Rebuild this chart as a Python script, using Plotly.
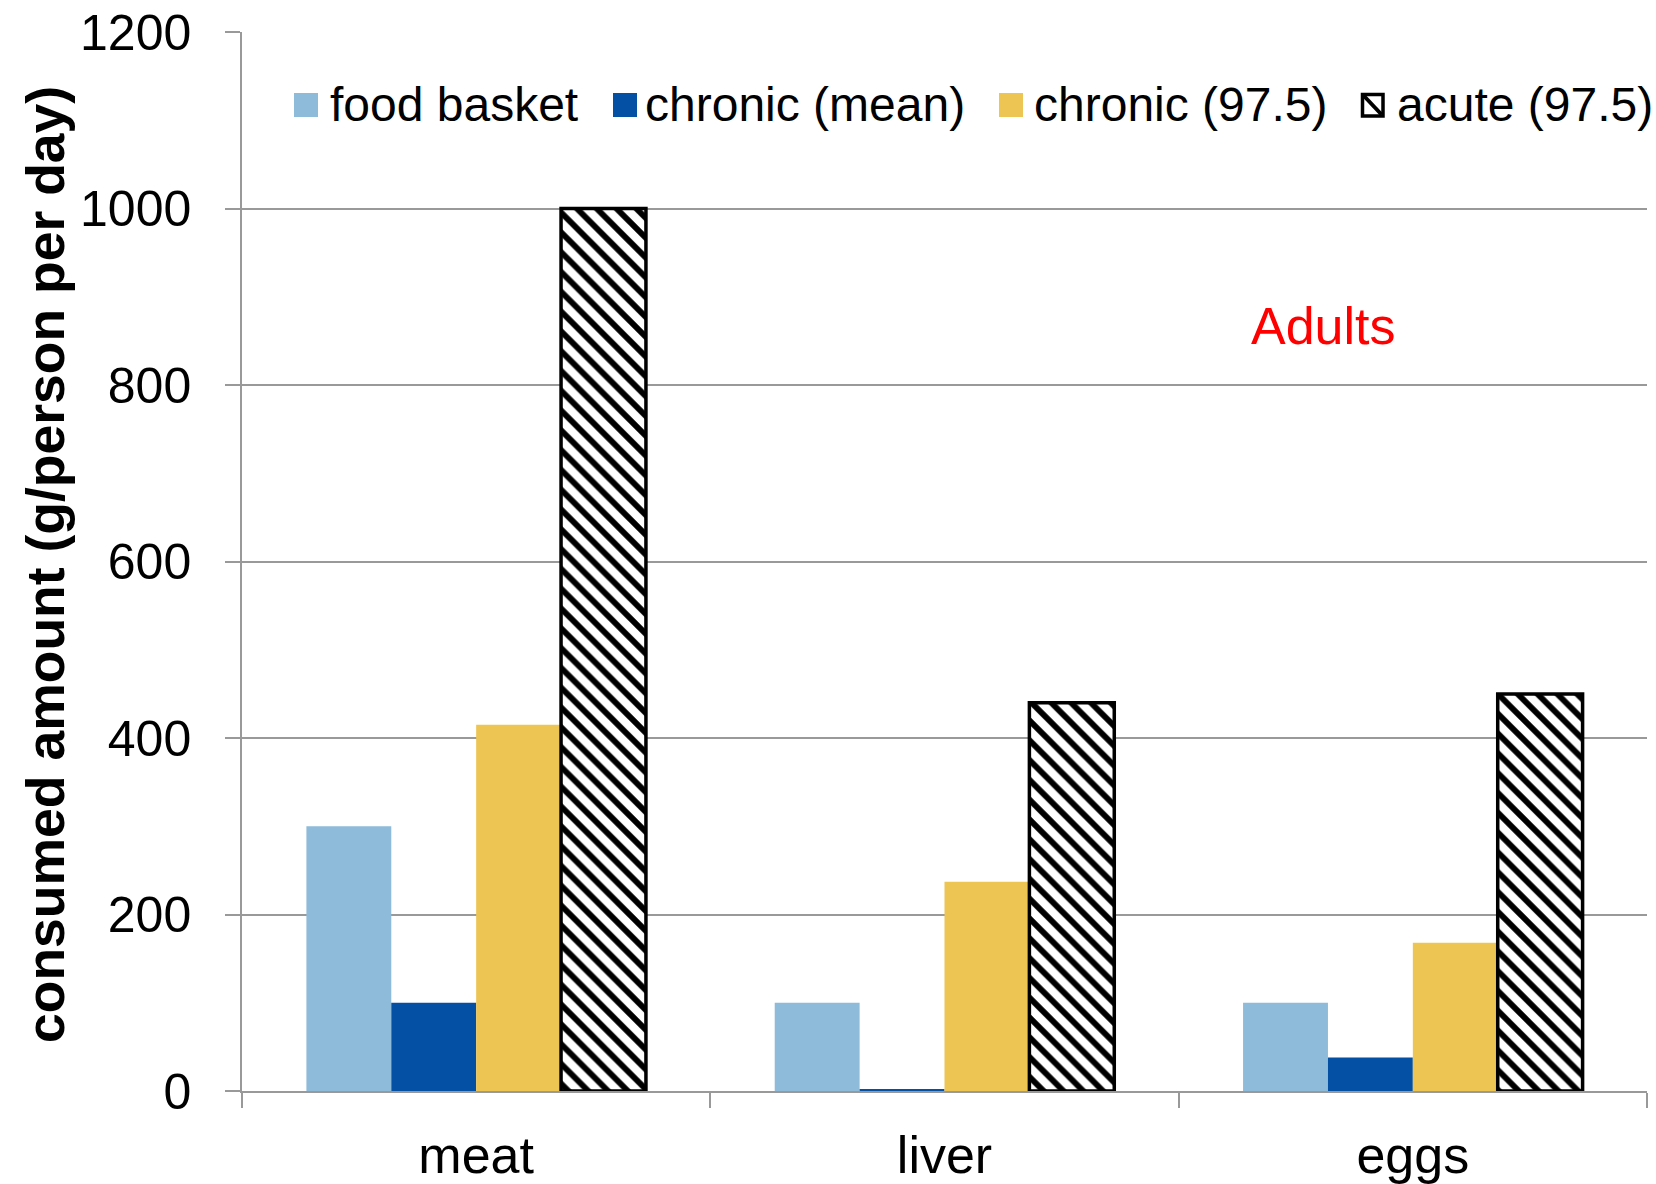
import plotly.graph_objects as go

# Food categories and daily consumed amounts (g/person per day), adults
categories = ["meat", "liver", "eggs"]
series_names = ["food basket", "chronic (mean)", "chronic (97.5)", "acute (97.5)"]
food_basket = [300, 100, 100]
chronic_mean = [100, 2, 38]
chronic_975 = [415, 237, 168]
acute_975 = [1000, 440, 450]
y_ticks = [0, 200, 400, 600, 800, 1000, 1200]

FONT = "Liberation Sans, Arial, sans-serif"
W, H = 1656, 1184
ML, MR, MT, MB = 242, 9, 32, 93
PW, PH = W - ML - MR, H - MT - MB

colors = ["#8DBBD9", "#0450A4", "#EDC552"]
solid_series = [food_basket, chronic_mean, chronic_975]

fig = go.Figure()
for name, vals, col in zip(series_names[:3], solid_series, colors):
    fig.add_trace(go.Bar(x=categories, y=vals, name=name,
                         marker=dict(color=col, line=dict(width=0)),
                         showlegend=False))
fig.add_trace(go.Bar(
    x=categories, y=acute_975, name=series_names[3], showlegend=False,
    marker=dict(color="white", line=dict(color="black", width=3.5),
                pattern=dict(shape="\\", fgcolor="black", bgcolor="white",
                             size=14, solidity=0.42, fillmode="replace")),
))


def px_x(px):
    return (px - ML) / PW


def px_y(py):
    return (H - MB - py) / PH


# Legend row across the top of the plot
leg_y_top, leg_y_bot = 93, 117
leg_items = [
    (294, 328, series_names[0], colors[0]),
    (613, 643, series_names[1], colors[1]),
    (999, 1032, series_names[2], colors[2]),
    (1361, 1395, series_names[3], None),
]
shapes = []
annotations = []
for sx, tx, label, col in leg_items:
    if col is not None:
        shapes.append(dict(type="rect", xref="paper", yref="paper",
                           x0=px_x(sx), x1=px_x(sx + 24),
                           y0=px_y(leg_y_bot), y1=px_y(leg_y_top),
                           fillcolor=col, line=dict(width=0)))
    else:
        shapes.append(dict(type="rect", xref="paper", yref="paper",
                           x0=px_x(sx + 1.5), x1=px_x(sx + 22),
                           y0=px_y(leg_y_bot - 1), y1=px_y(leg_y_top + 1.5),
                           fillcolor="white", line=dict(color="black", width=3.5)))
        shapes.append(dict(type="line", xref="paper", yref="paper",
                           x0=px_x(sx + 3), x1=px_x(sx + 20.5),
                           y0=px_y(leg_y_top + 3), y1=px_y(leg_y_bot - 2.5),
                           line=dict(color="black", width=4)))
    annotations.append(dict(text=label, xref="paper", yref="paper",
                            x=px_x(tx), y=px_y(105), xanchor="left",
                            yanchor="middle", showarrow=False,
                            font=dict(family=FONT, size=48, color="black")))

annotations.append(dict(text="Adults", xref="paper", yref="paper",
                        x=px_x(1323), y=px_y(326), xanchor="center",
                        yanchor="middle", showarrow=False,
                        font=dict(family=FONT, size=52, color="#FF0000")))
annotations.append(dict(text="<b>consumed amount (g/person per day)</b>",
                        xref="paper", yref="paper", x=px_x(45), y=px_y(565),
                        xanchor="center", yanchor="middle", textangle=-90,
                        showarrow=False,
                        font=dict(family=FONT, size=53.5, color="black")))

fig.update_layout(
    width=W, height=H,
    margin=dict(l=ML, r=MR, t=MT, b=MB, autoexpand=False),
    paper_bgcolor="white", plot_bgcolor="white",
    barmode="group", bargap=0.275, bargroupgap=0,
    shapes=shapes, annotations=annotations,
    showlegend=False,
    font=dict(family=FONT, color="black"),
)
fig.update_xaxes(
    type="category", showgrid=False, showline=True, linecolor="#999999",
    linewidth=1.5, ticks="outside", tickson="boundaries", ticklen=15,
    tickcolor="#999999", tickwidth=1.5, ticklabelstandoff=18,
    tickfont=dict(family=FONT, size=52, color="black"),
)
fig.update_yaxes(
    range=[0, 1200], tickvals=y_ticks, showgrid=True, gridcolor="#999999",
    gridwidth=1.5, showline=True, linecolor="#999999", linewidth=1.5,
    ticks="outside", ticklen=15, tickcolor="#999999", tickwidth=1.5,
    ticklabelstandoff=24, zeroline=False,
    tickfont=dict(family=FONT, size=50, color="black"),
)

fig.write_html("out.html")
